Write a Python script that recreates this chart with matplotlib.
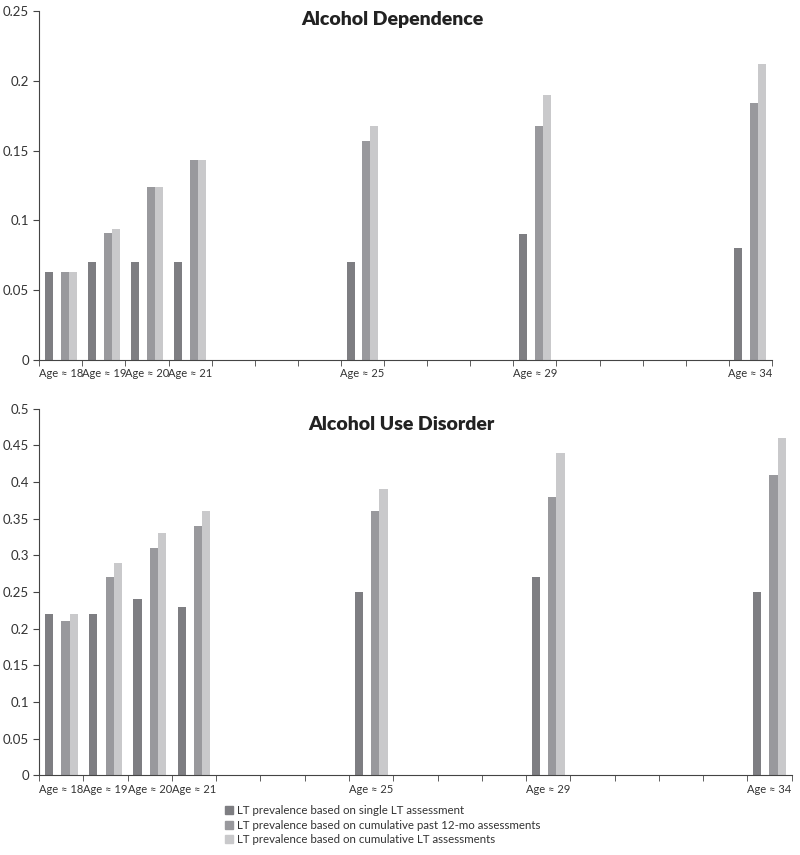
import numpy as np
import matplotlib.pyplot as plt
from matplotlib.patches import Patch

plt.rcParams['font.family'] = ['Lato', 'DejaVu Sans']

# Categories: ages 18..34 (only some have data)
ages = list(range(18, 35))
data_ages = [18, 19, 20, 21, 25, 29, 34]
tick_labels = ['Age \u2248 18', 'Age \u2248 19', 'Age \u2248 20', 'Age \u2248 21',
               'Age \u2248 25', 'Age \u2248 29', 'Age \u2248 34']

series_names = ['LT prevalence based on single LT assessment',
                'LT prevalence based on cumulative past 12-mo assessments',
                'LT prevalence based on cumulative LT assessments']
colors = ['#7e7e82', '#99999d', '#c9c9cb']

# Alcohol Dependence
dep_single = [0.063, 0.070, 0.070, 0.070, 0.070, 0.090, 0.080]
dep_12mo = [0.063, 0.091, 0.124, 0.143, 0.157, 0.168, 0.184]
dep_cumlt = [0.063, 0.094, 0.124, 0.143, 0.168, 0.190, 0.212]

# Alcohol Use Disorder
aud_single = [0.22, 0.22, 0.24, 0.23, 0.25, 0.27, 0.25]
aud_12mo = [0.21, 0.27, 0.31, 0.34, 0.36, 0.38, 0.41]
aud_cumlt = [0.22, 0.29, 0.33, 0.36, 0.39, 0.44, 0.46]


def draw(ax, series, ymax):
    idx = np.array([ages.index(a) for a in data_ages])
    w = 0.185
    offsets = [-1.5 * w, 0.5 * w, 1.5 * w]
    for vals, off, c in zip(series, offsets, colors):
        ax.bar(idx + off, vals, width=w, color=c, linewidth=0)
    ax.set_xlim(-0.5, len(ages) - 0.5)
    ax.set_ylim(0, ymax)
    ax.set_yticks(np.arange(0, ymax + 1e-9, 0.05))
    ax.set_yticklabels(['0'] + ['%g' % v for v in np.arange(0.05, ymax + 1e-9, 0.05)])
    ax.set_xticks(idx)
    ax.set_xticklabels(tick_labels)
    ax.set_xticks(np.arange(-0.5, len(ages), 1.0), minor=True)
    ax.tick_params(axis='x', which='major', length=0, pad=6, labelsize=8, colors='#333333')
    ax.tick_params(axis='x', which='minor', length=4, direction='out', color='#444444')
    ax.tick_params(axis='y', length=4, direction='out', labelsize=9.5, colors='#333333', color='#444444')
    for s in ['top', 'right']:
        ax.spines[s].set_visible(False)
    for s in ['left', 'bottom']:
        ax.spines[s].set_color('#444444')


fig = plt.figure(figsize=(8, 8.55), dpi=100)
ax1 = fig.add_axes([0.049, 0.579, 0.916, 0.408])
ax2 = fig.add_axes([0.049, 0.0932, 0.9405, 0.429])

draw(ax1, [dep_single, dep_12mo, dep_cumlt], 0.25)
draw(ax2, [aud_single, aud_12mo, aud_cumlt], 0.5)

fig.text(392 / 800, 1 - 20 / 855, 'Alcohol Dependence', fontsize=14, fontweight='heavy',
         color='#222222', ha='center', va='center')
fig.text(401 / 800, 1 - 424 / 855, 'Alcohol Use Disorder', fontsize=14, fontweight='heavy',
         color='#222222', ha='center', va='center')

handles = [Patch(color=c, label=n) for c, n in zip(colors, series_names)]
fig.legend(handles=handles, loc='upper left', bbox_to_anchor=(0.281, 0.058),
           frameon=False, fontsize=8.3, handlelength=0.7, handleheight=0.7,
           handletextpad=0.4, labelspacing=0.28, borderaxespad=0, borderpad=0,
           labelcolor='#333333')

fig.savefig('out.png', dpi=100)
